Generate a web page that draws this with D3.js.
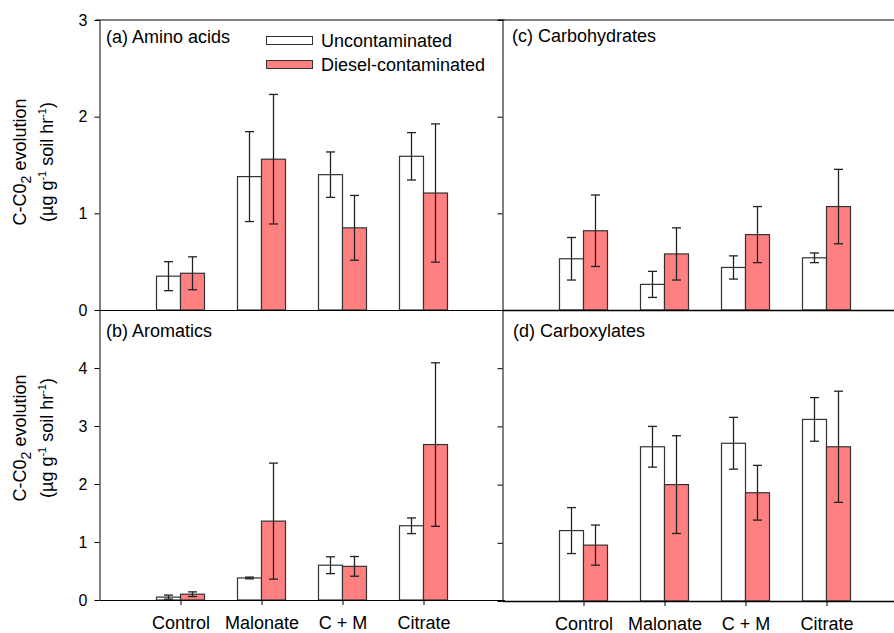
<!DOCTYPE html>
<html>
<head>
<meta charset="utf-8">
<script src="https://cdn.jsdelivr.net/npm/d3@7"></script>
<style>
  body { margin: 0; background: #fff; }
  text { font-family: "Liberation Sans", Arial, sans-serif; fill: #000; }
</style>
</head>
<body>
<svg id="chart" width="894" height="633"></svg>
<script>
// categories and series
const categories = ["Control", "Malonate", "C + M", "Citrate"];
const seriesNames = ["Uncontaminated", "Diesel-contaminated"];
const seriesColors = ["#ffffff", "#ff8080"];

// (a) Amino acids
const aminoUnc = [0.35, 1.38, 1.40, 1.59];
const aminoUncErr = [0.15, 0.465, 0.235, 0.245];
const aminoDie = [0.38, 1.56, 0.85, 1.21];
const aminoDieErr = [0.17, 0.67, 0.335, 0.715];

// (b) Aromatics
const aromUnc = [0.05, 0.38, 0.60, 1.28];
const aromUncErr = [0.035, 0.015, 0.145, 0.135];
const aromDie = [0.10, 1.36, 0.58, 2.68];
const aromDieErr = [0.04, 1.0, 0.17, 1.41];

// (c) Carbohydrates
const carbUnc = [0.53, 0.265, 0.44, 0.54];
const carbUncErr = [0.22, 0.135, 0.12, 0.05];
const carbDie = [0.82, 0.58, 0.78, 1.07];
const carbDieErr = [0.37, 0.27, 0.29, 0.385];

// (d) Carboxylates
const carbxUnc = [1.21, 2.65, 2.71, 3.12];
const carbxUncErr = [0.395, 0.35, 0.445, 0.375];
const carbxDie = [0.96, 2.00, 1.86, 2.65];
const carbxDieErr = [0.345, 0.84, 0.47, 0.955];

const ticksTop = [0, 1, 2, 3];
const ticksBottom = [0, 1, 2, 3, 4];

const svg = d3.select("#chart");

const panels = [
  { title: "(a) Amino acids", x0: 99.5, y0: 20, y1: 310, max: 3, ticks: ticksTop,
    labels: true, cats: false, top: true, tx: 106, ty: 43, ly: 162,
    vals: [aminoUnc, aminoDie], errs: [aminoUncErr, aminoDieErr] },
  { title: "(b) Aromatics", x0: 99.5, y0: 310, y1: 600, max: 5, ticks: ticksBottom,
    labels: true, cats: true, top: false, tx: 106, ty: 336.5, ly: 438,
    vals: [aromUnc, aromDie], errs: [aromUncErr, aromDieErr] },
  { title: "(c) Carbohydrates", x0: 502.5, y0: 20, y1: 310, max: 3, ticks: ticksTop,
    labels: false, cats: false, top: true, tx: 512, ty: 41.5,
    vals: [carbUnc, carbDie], errs: [carbUncErr, carbDieErr] },
  { title: "(d) Carboxylates", x0: 502.5, y0: 310, y1: 601, max: 5, ticks: ticksBottom,
    labels: false, cats: true, top: false, tx: 513, ty: 337,
    vals: [carbxUnc, carbxDie], errs: [carbxUncErr, carbxDieErr] },
];

const panelWidth = 405;
const barW = 24;
const capW = 9;

function drawPanel(p) {
  const g = svg.append("g");

  const x = d3.scalePoint().domain(categories).range([p.x0, p.x0 + panelWidth]).padding(1);
  const xs = d3.scaleBand().domain(seriesNames).range([-barW, barW]);
  const y = d3.scaleLinear().domain([0, p.max]).range([p.y1, p.y0]);

  // bars
  seriesNames.forEach((s, si) => {
    const rows = categories.map((c, i) => ({ c: c, v: p.vals[si][i], e: p.errs[si][i] }));
    g.append("g")
      .selectAll("rect")
      .data(rows)
      .enter()
      .append("rect")
      .attr("x", (d) => x(d.c) + xs(s))
      .attr("y", (d) => y(d.v))
      .attr("width", xs.bandwidth())
      .attr("height", (d) => y(0) - y(d.v))
      .style("fill", seriesColors[si])
      .style("stroke", "#333")
      .style("stroke-width", 1.2);

    const eb = g.append("g").style("stroke", "#222").style("stroke-width", 1.3);
    const cx = (d) => x(d.c) + xs(s) + xs.bandwidth() / 2;
    eb.selectAll(".v").data(rows).enter().append("line")
      .attr("x1", cx).attr("x2", cx)
      .attr("y1", (d) => y(d.v + d.e)).attr("y2", (d) => y(Math.max(0, d.v - d.e)));
    eb.selectAll(".t").data(rows).enter().append("line")
      .attr("x1", (d) => cx(d) - capW / 2).attr("x2", (d) => cx(d) + capW / 2)
      .attr("y1", (d) => y(d.v + d.e)).attr("y2", (d) => y(d.v + d.e));
    eb.selectAll(".b").data(rows).enter().append("line")
      .attr("x1", (d) => cx(d) - capW / 2).attr("x2", (d) => cx(d) + capW / 2)
      .attr("y1", (d) => y(Math.max(0, d.v - d.e))).attr("y2", (d) => y(Math.max(0, d.v - d.e)));
  });

  // y axis
  const axisY = d3.axisLeft(y).tickValues(p.ticks).tickSize(5).tickSizeOuter(0).tickPadding(7)
    .tickFormat(p.labels ? d3.format("d") : "");
  const gy = g.append("g").attr("transform", `translate(${p.x0},0)`).call(axisY);
  gy.selectAll("text").style("font-size", "16px");

  // x axis
  const axisX = d3.axisBottom(x).tickSize(p.cats ? 5 : 0).tickSizeOuter(0).tickPadding(11);
  if (!p.cats) axisX.tickFormat("");
  const gx = g.append("g").attr("transform", `translate(0,${p.y1})`).call(axisX);
  gx.selectAll("text").style("font-size", "18px");
  gx.select(".domain").style("stroke-width", p.x0 > 300 ? 1.6 : 1.1);

  // top border
  if (p.top) {
    g.append("line")
      .attr("x1", p.x0 - 4).attr("x2", p.x0 + panelWidth)
      .attr("y1", p.y0).attr("y2", p.y0)
      .style("stroke", "#000");
  }

  // title
  g.append("text")
    .attr("x", p.tx).attr("y", p.ty)
    .style("font-size", "18px")
    .text(p.title);

  // y axis label
  if (p.labels) {
    const l1 = g.append("text")
      .attr("transform", `translate(26,${p.ly}) rotate(-90)`)
      .attr("text-anchor", "middle")
      .style("font-size", "18px");
    l1.append("tspan").text("C-C0");
    l1.append("tspan").attr("dy", 5).style("font-size", "14px").text("2");
    l1.append("tspan").attr("dy", -5).text(" evolution");

    const l2 = g.append("text")
      .attr("transform", `translate(53,${p.ly}) rotate(-90)`)
      .attr("text-anchor", "middle")
      .style("font-size", "18px");
    l2.append("tspan").text("(µg g");
    l2.append("tspan").attr("dy", -7).style("font-size", "11px").text("-1");
    l2.append("tspan").attr("dy", 7).text(" soil hr");
    l2.append("tspan").attr("dy", -7).style("font-size", "11px").text("-1");
    l2.append("tspan").attr("dy", 7).text(")");
  }
}

panels.forEach(drawPanel);

// legend
const legend = svg.append("g");
seriesNames.forEach((s, i) => {
  legend.append("rect")
    .attr("x", 266.5).attr("y", 36.5 + i * 24)
    .attr("width", 46).attr("height", 8)
    .style("fill", seriesColors[i])
    .style("stroke", "#333");
  legend.append("text")
    .attr("x", 321).attr("y", 47 + i * 24)
    .style("font-size", "18px")
    .text(s);
});
</script>
</body>
</html>
